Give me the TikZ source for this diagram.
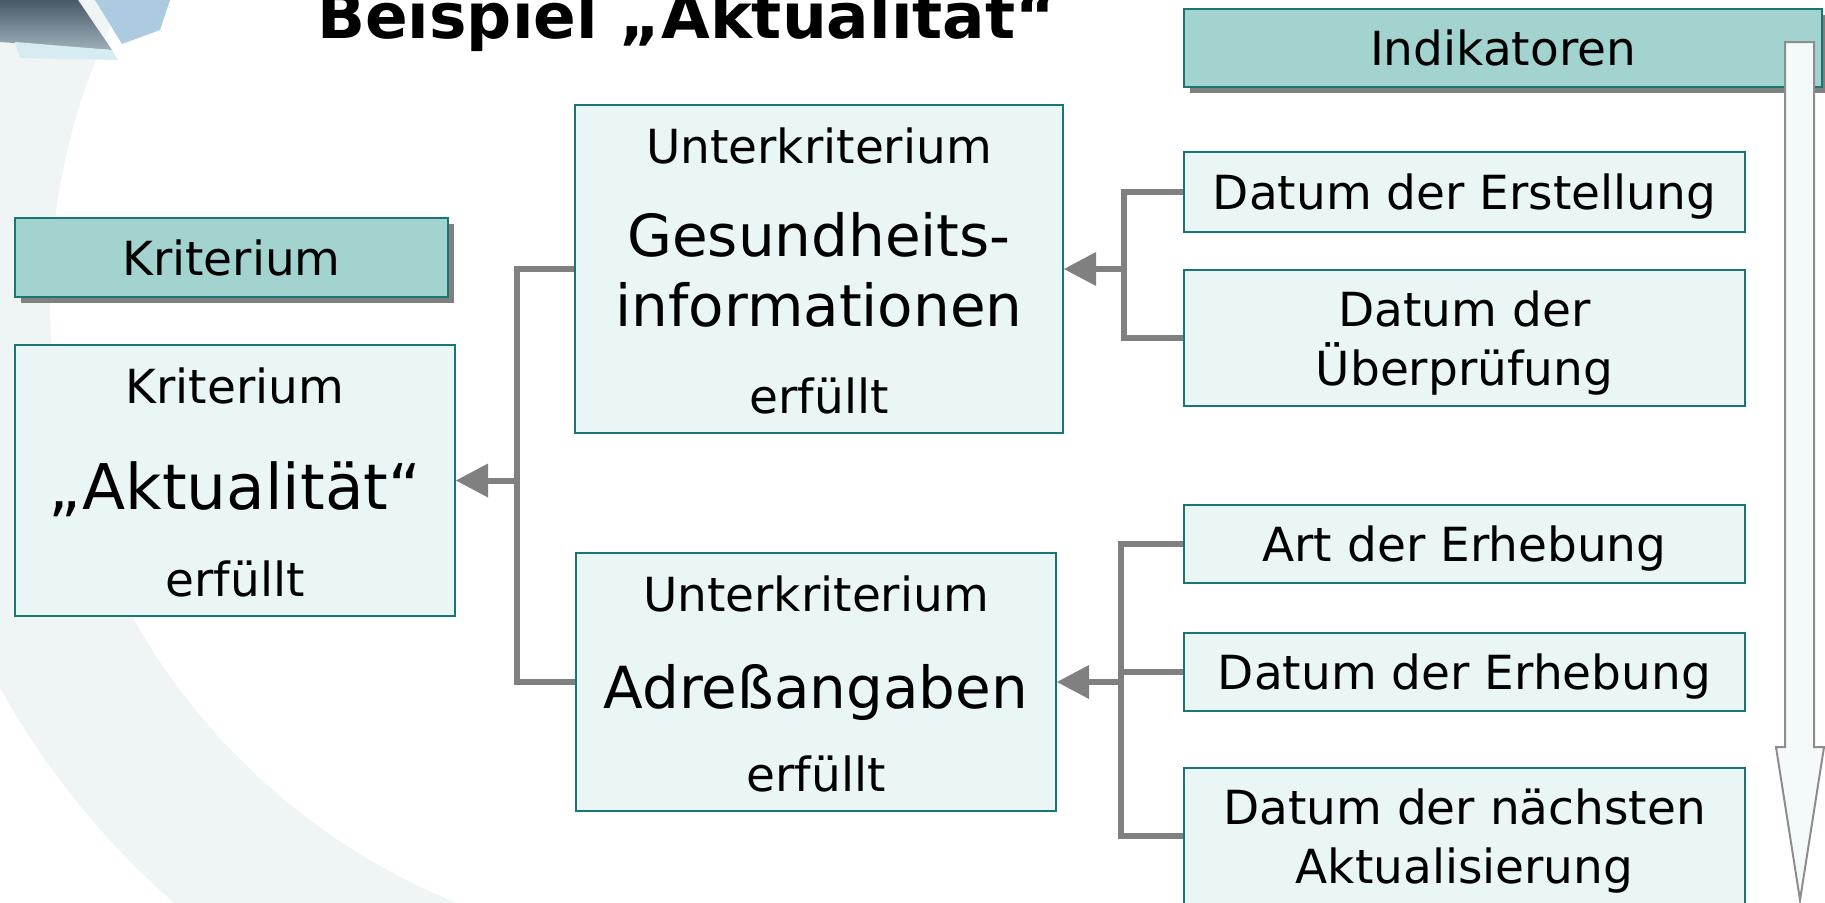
\documentclass[tikz,border=0pt]{standalone}
\usepackage{fontspec}
\setmainfont{DejaVu Sans}
\usetikzlibrary{arrows.meta}
\usetikzlibrary{shadows}
\definecolor{edgecolor}{RGB}{24,118,116}
\definecolor{headfill}{RGB}{162,211,206}
\definecolor{boxfill}{RGB}{234,246,245}
\definecolor{congrey}{RGB}{128,128,128}
\definecolor{bgband}{RGB}{239,244,245}
\definecolor{arrowfill}{RGB}{244,250,250}
\definecolor{slate}{RGB}{72,88,104}
\definecolor{slatelight}{RGB}{160,176,186}
\definecolor{iceblue}{RGB}{172,202,224}
\definecolor{icecyan}{RGB}{214,236,240}
\def\txtS{\fontsize{47}{59}\selectfont}
\def\txtL{\fontsize{58}{70}\selectfont}
\def\txtT{\fontsize{63}{70}\selectfont\bfseries}

\begin{document}
\begin{tikzpicture}[
    x=1pt, y=-1pt,
    head/.style={draw=edgecolor, fill=headfill, line width=2pt, font=\txtS,
        inner sep=0pt, text depth=0pt,
        drop shadow={shadow xshift=6pt, shadow yshift=-6pt, opacity=1, fill=congrey}},
    crit/.style={draw=edgecolor, fill=boxfill, line width=2pt, font=\txtL,
        align=center, inner sep=0pt, text depth=0pt},
    ind/.style={draw=edgecolor, fill=boxfill, line width=2pt, font=\txtS,
        align=center, inner sep=0pt, text depth=0pt, minimum width=561pt},
    lbtop/.style={anchor=center, yshift=-42pt, font=\txtS, draw=none, fill=none,
        minimum size=0pt},
    lbbot/.style={anchor=center, yshift=38pt, font=\txtS, draw=none, fill=none,
        minimum size=0pt},
    con/.style={draw=congrey, line width=6pt},
    arr/.style={-{Triangle[length=32pt,width=34pt,line width=0pt]}}
]

\useasboundingbox (0,0) rectangle (1825,902);
\clip (0,0) rectangle (1825,902);

% background
\begin{scope}
    \clip (0,0) rectangle (700,902);
    \fill [bgband, even odd rule] (700,300) circle (800pt) (700,300) circle (650pt);
\end{scope}
\shade [top color=slate, bottom color=slatelight]
    (0,0) -- (78,0) -- (112,50) -- (0,42) -- cycle;
\fill [iceblue] (95,0) -- (170,0) -- (160,30) -- (122,44) -- cycle;
\fill [icecyan] (15,42) -- (112,50) -- (118,60) -- (20,58) -- cycle;

\node [font=\txtT, anchor=base] (title) at (687,38) {Beispiel „Aktualität“};

\node [head, minimum width=433pt, minimum height=79pt] (khead) at (231.5,257.5) {Kriterium};
\node [crit, minimum width=440pt, minimum height=271pt,
    font=\fontsize{63}{70}\selectfont, text height=58pt,
    label={[lbtop]north:Kriterium}, label={[lbbot]south:erfüllt}]
    (krit) at (235,480.5) {„Aktualität“};

\node [crit, minimum width=488pt, minimum height=328pt,
    label={[lbtop]north:Unterkriterium}, label={[lbbot]south:erfüllt}]
    (gesund) at (819,269) {Gesundheits-\\informationen};
\node [crit, minimum width=480pt, minimum height=258pt, text height=52pt,
    label={[lbtop]north:Unterkriterium}, label={[lbbot]south:erfüllt}]
    (adress) at (816,682) {Adreßangaben};

\node [head, minimum width=638pt, minimum height=78pt] (ihead) at (1503,48) {Indikatoren};
\node [ind, minimum height=80pt]  (erstell) at (1464.5,192) {Datum der Erstellung};
\node [ind, minimum height=136pt] (pruef)   at (1464.5,338) {Datum der\\Überprüfung};
\node [ind, minimum height=78pt]  (art)     at (1464.5,544) {Art der Erhebung};
\node [ind, minimum height=78pt]  (erheb)   at (1464.5,672) {Datum der Erhebung};
\node [ind, minimum height=136pt] (naechst) at (1464.5,836) {Datum der nächsten\\Aktualisierung};

\filldraw [draw=congrey!90!white, fill=arrowfill, line width=2pt, line join=miter]
    (1785,42) -- (1814,42) -- (1814,747) -- (1824,747) -- (1800,900) --
    (1776,747) -- (1785,747) -- cycle;

\coordinate (jk) at ([xshift=61pt]krit.east);
\coordinate (jg) at ([xshift=60pt]gesund.east);
\coordinate (ja) at ([xshift=64pt]adress.east);

\draw [con] (gesund.west) -| (jk) |- (adress.west);
\draw [con, arr] (jk) -- (krit.east);
\draw [con] (erstell.west) -| (jg) |- (pruef.west);
\draw [con, arr] (jg) -- (gesund.east);
\draw [con] (art.west) -| (ja) |- (naechst.west);
\draw [con] (erheb.west) -- (erheb.west -| ja);
\draw [con, arr] (ja) -- (adress.east);

\end{tikzpicture}
\end{document}
